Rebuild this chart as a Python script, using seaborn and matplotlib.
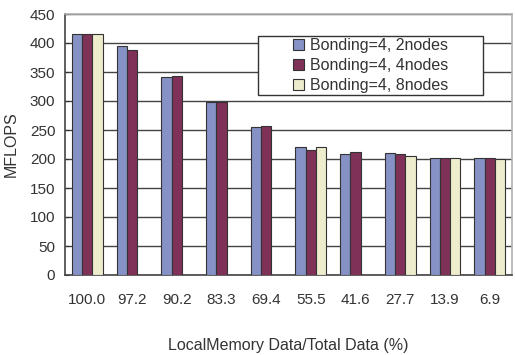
import numpy as np
import pandas as pd
import seaborn as sns
import matplotlib.pyplot as plt
from matplotlib.ticker import FixedLocator
from matplotlib.patches import Rectangle

# data
ratios = ['100.0', '97.2', '90.2', '83.3', '69.4', '55.5', '41.6', '27.7', '13.9', '6.9']
series = ['Bonding=4, 2nodes', 'Bonding=4, 4nodes', 'Bonding=4, 8nodes']
nodes2 = [416, 394, 341, 298, 255, 220, 209, 210, 202, 202]
nodes4 = [416, 388, 343, 298, 257, 216, 212, 208, 202, 201]
nodes8 = [416, np.nan, np.nan, np.nan, np.nan, 220, np.nan, 206, 201, 200]
colors = ['#7b8bd0', '#8c2458', '#f3f1c6']


def build_frame():
    rows = []
    for name, vals in zip(series, [nodes2, nodes4, nodes8]):
        for r, v in zip(ratios, vals):
            rows.append({'ratio': r, 'series': name, 'mflops': v})
    return pd.DataFrame(rows)


df = build_frame()

sns.set_style('white')
plt.rcParams['font.family'] = ['Liberation Sans', 'DejaVu Sans']

W, H = 515, 355
fig = plt.figure(figsize=(W / 100, H / 100), dpi=100)
ax = fig.add_axes([65 / W, 1 - 275 / H, (512 - 65) / W, (275 - 14) / H])

sns.barplot(data=df, x='ratio', y='mflops', hue='series', order=ratios,
            hue_order=series, palette=colors, width=0.69, errorbar=None,
            edgecolor='#333333', linewidth=0.8, ax=ax, zorder=3)

ax.set_ylim(0, 450)
ax.set_xlim(-0.5, len(ratios) - 0.5)
ax.set_yticks(range(0, 451, 50))
ax.yaxis.grid(True, color='#444444', linewidth=1.0, zorder=0)
ax.set_axisbelow(True)

# tick marks between groups, labels in the middle
ax.tick_params(axis='x', which='major', length=0, pad=13, labelsize=11, labelcolor='#333333')
ax.xaxis.set_minor_locator(FixedLocator(np.arange(0.5, len(ratios) - 0.5, 1)))
ax.tick_params(axis='x', which='minor', direction='in', length=3, color='#333333')
ax.tick_params(axis='y', direction='in', length=3, labelsize=11, labelcolor='#333333',
               left=True, color='#333333', pad=7)

for side in ['left', 'bottom']:
    ax.spines[side].set_color('#444444')
    ax.spines[side].set_linewidth(1.2)
for side in ['top', 'right']:
    ax.spines[side].set_color('#b0b0b0')
    ax.spines[side].set_linewidth(1.2)

ax.set_xlabel('LocalMemory Data/Total Data (%)', fontsize=11.5, color='#333333', labelpad=22)
ax.set_ylabel('MFLOPS', fontsize=11.5, color='#333333', labelpad=8)

# legend box is wider than its content in the reference
box = Rectangle((258 / W, 1 - 95 / H), (483 - 258) / W, (95 - 36) / H,
                transform=fig.transFigure, facecolor='white', edgecolor='#333333',
                linewidth=1.0, zorder=5)
fig.add_artist(box)
leg = ax.legend(loc='center', bbox_to_anchor=((258 + 483) / 2 / W, 1 - (36 + 95) / 2 / H),
                bbox_transform=fig.transFigure, fontsize=11.5, frameon=False,
                handlelength=0.7, handleheight=0.7, handletextpad=0.4,
                borderpad=0.2, labelspacing=0.3, labelcolor='#333333')
for h in leg.legend_handles:
    h.set_edgecolor('#333333')
leg.set_zorder(6)
ax.add_artist(leg)
leg.remove()
fig.add_artist(leg)

plt.savefig('out.png', dpi=100)
